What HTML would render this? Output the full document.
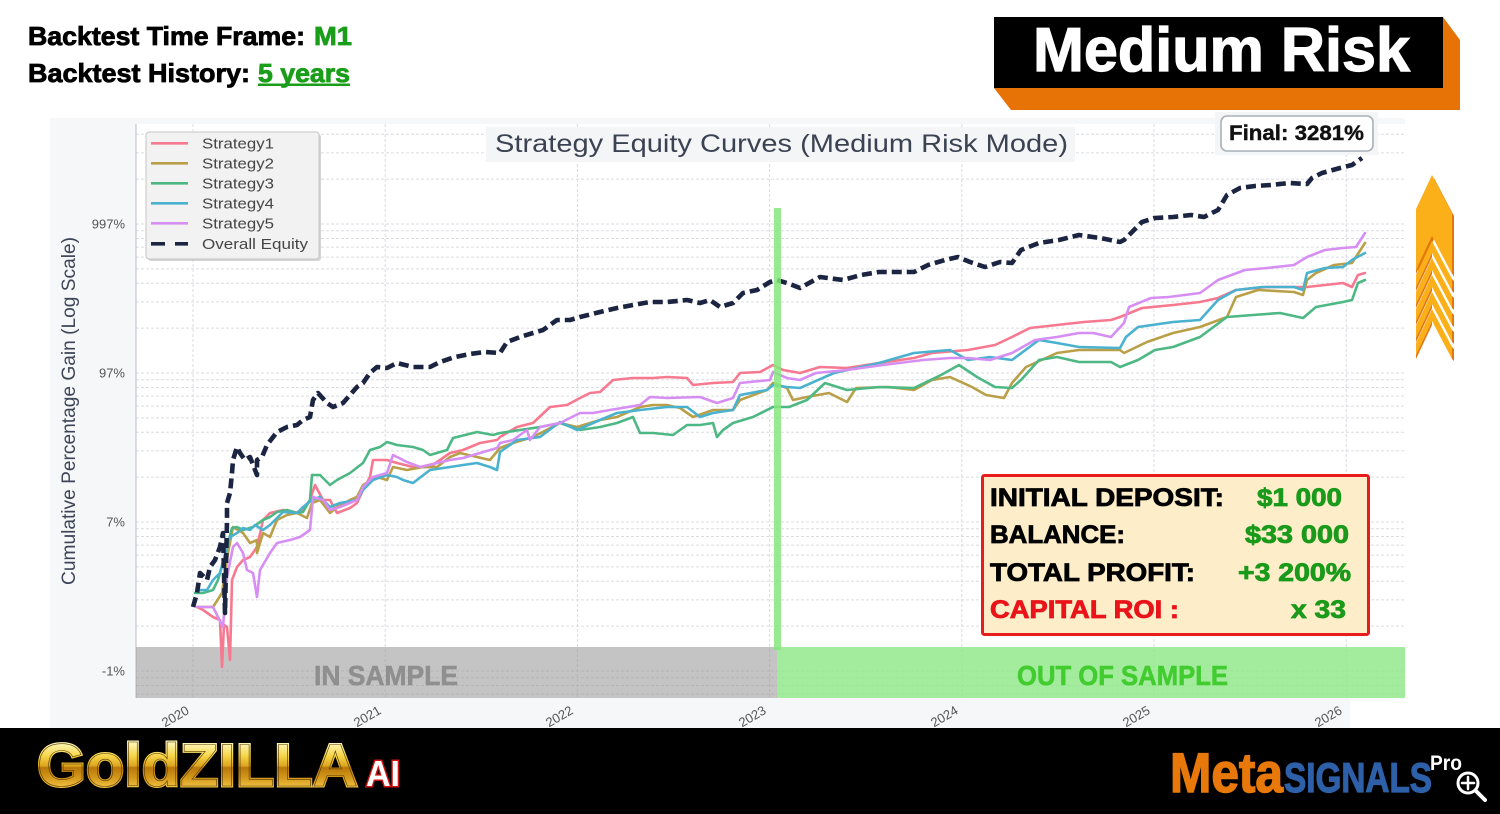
<!DOCTYPE html>
<html>
<head>
<meta charset="utf-8">
<style>
html,body{margin:0;padding:0;background:#ffffff;}
body{width:1500px;height:814px;overflow:hidden;}
svg{display:block;font-family:"Liberation Sans",Arial,sans-serif;}
</style>
</head>
<body>
<svg width="1500" height="814" viewBox="0 0 1500 814" xmlns="http://www.w3.org/2000/svg">
  <defs>
    <linearGradient id="gold" x1="0" y1="743" x2="0" y2="787" gradientUnits="userSpaceOnUse">
      <stop offset="0" stop-color="#fff7b8"/>
      <stop offset="0.3" stop-color="#f5d446"/>
      <stop offset="0.52" stop-color="#dca520"/>
      <stop offset="0.56" stop-color="#b8780a"/>
      <stop offset="0.8" stop-color="#d59a1c"/>
      <stop offset="1" stop-color="#f0c040"/>
    </linearGradient>
  </defs>

  <rect x="0" y="0" width="1500" height="814" fill="#ffffff"/>

  <!-- Top-left text -->
  <g font-weight="bold" font-size="26" stroke-width="0.8">
    <text x="28" y="45" fill="#000" stroke="#000" textLength="277" lengthAdjust="spacingAndGlyphs">Backtest Time Frame:</text>
    <text x="314" y="45" fill="#1a9e1a" stroke="#1a9e1a" textLength="38" lengthAdjust="spacingAndGlyphs">M1</text>
    <text x="28" y="82" fill="#000" stroke="#000" textLength="222" lengthAdjust="spacingAndGlyphs">Backtest History:</text>
    <text x="258" y="82" fill="#1a9e1a" stroke="#1a9e1a" textLength="92" lengthAdjust="spacingAndGlyphs">5 years</text>
  </g>
  <rect x="258" y="83.5" width="92" height="2.5" fill="#1a9e1a"/>

  <!-- Medium Risk badge -->
  <polygon points="994,88 1011,110 1460,110 1460,40 1443,17" fill="#e77206"/>
  <rect x="994" y="17" width="449" height="71" fill="#000"/>
  <text x="1033" y="71" font-size="62" font-weight="bold" fill="#fff" stroke="#fff" stroke-width="1.2" textLength="377" lengthAdjust="spacingAndGlyphs">Medium Risk</text>

  <!-- Figure background -->
  <rect x="50" y="118" width="1355" height="610" fill="#f6f7f9"/>
  <rect x="1350" y="699" width="55" height="29" fill="#ffffff"/>
  <rect x="136" y="124" width="1269" height="574" fill="#ffffff"/>

  <!-- Horizontal gridlines -->
  <g stroke="#d9dce1" stroke-width="1" stroke-dasharray="3,2">
    <line x1="136" x2="1405" y1="224" y2="224"/>
    <line x1="136" x2="1405" y1="373" y2="373"/>
    <line x1="136" x2="1405" y1="522" y2="522"/>
    <line x1="136" x2="1405" y1="671" y2="671"/>
    <line x1="136" x2="1405" y1="179.1" y2="179.1"/>
    <line x1="136" x2="1405" y1="152.9" y2="152.9"/>
    <line x1="136" x2="1405" y1="134.3" y2="134.3"/>
    <line x1="136" x2="1405" y1="328.1" y2="328.1"/>
    <line x1="136" x2="1405" y1="301.9" y2="301.9"/>
    <line x1="136" x2="1405" y1="283.3" y2="283.3"/>
    <line x1="136" x2="1405" y1="268.9" y2="268.9"/>
    <line x1="136" x2="1405" y1="257.1" y2="257.1"/>
    <line x1="136" x2="1405" y1="247.1" y2="247.1"/>
    <line x1="136" x2="1405" y1="238.5" y2="238.5"/>
    <line x1="136" x2="1405" y1="230.8" y2="230.8"/>
    <line x1="136" x2="1405" y1="477.1" y2="477.1"/>
    <line x1="136" x2="1405" y1="450.9" y2="450.9"/>
    <line x1="136" x2="1405" y1="432.3" y2="432.3"/>
    <line x1="136" x2="1405" y1="417.9" y2="417.9"/>
    <line x1="136" x2="1405" y1="406.1" y2="406.1"/>
    <line x1="136" x2="1405" y1="396.1" y2="396.1"/>
    <line x1="136" x2="1405" y1="387.5" y2="387.5"/>
    <line x1="136" x2="1405" y1="379.8" y2="379.8"/>
    <line x1="136" x2="1405" y1="626.1" y2="626.1"/>
    <line x1="136" x2="1405" y1="599.9" y2="599.9"/>
    <line x1="136" x2="1405" y1="581.3" y2="581.3"/>
    <line x1="136" x2="1405" y1="566.9" y2="566.9"/>
    <line x1="136" x2="1405" y1="555.1" y2="555.1"/>
    <line x1="136" x2="1405" y1="545.1" y2="545.1"/>
    <line x1="136" x2="1405" y1="536.5" y2="536.5"/>
    <line x1="136" x2="1405" y1="528.8" y2="528.8"/>
    <line x1="136" x2="1405" y1="694.0" y2="694.0"/>
    <line x1="136" x2="1405" y1="685.5" y2="685.5"/>
    <line x1="136" x2="1405" y1="677.8" y2="677.8"/>
  </g>
  <g stroke="#d9dce1" stroke-width="1" stroke-dasharray="3,2">
    <line x1="193" x2="193" y1="124" y2="698"/>
    <line x1="385.2" x2="385.2" y1="124" y2="698"/>
    <line x1="577.4" x2="577.4" y1="124" y2="698"/>
    <line x1="769.6" x2="769.6" y1="124" y2="698"/>
    <line x1="961.8" x2="961.8" y1="124" y2="698"/>
    <line x1="1154" x2="1154" y1="124" y2="698"/>
    <line x1="1346.2" x2="1346.2" y1="124" y2="698"/>
  </g>
  <line x1="136" y1="124" x2="136" y2="698" stroke="#c3c8d0" stroke-width="1.2"/>

  <!-- Sample bands -->
  <rect x="136" y="647" width="641" height="51" fill="#9a9a9a" opacity="0.58"/>
  <rect x="777" y="647" width="628" height="51" fill="#8fe888" opacity="0.82"/>
  <text x="314" y="685" font-size="28" font-weight="bold" fill="#8f8f8f" stroke="#8f8f8f" stroke-width="0.6" textLength="144" lengthAdjust="spacingAndGlyphs">IN SAMPLE</text>
  <text x="1017" y="685" font-size="28" font-weight="bold" fill="#42cc30" stroke="#42cc30" stroke-width="0.6" textLength="211" lengthAdjust="spacingAndGlyphs">OUT OF SAMPLE</text>

  <!-- Series -->
  <g fill="none" stroke-width="2.6" stroke-linejoin="round" stroke-linecap="round">
    <polyline stroke="#f7798f" points="197,607 203,610 213,617 220,620 222,667 224,625 227,627 230,660 232,580 237,567 243,560 250,557 257,547 263,520 270,513 283,510 300,513 310,500 315,485 323,500 330,500 337,513 350,508 357,503 363,490 370,477 373,460 387,460 397,463 413,467 430,467 450,453 463,450 480,443 497,440 500,437 517,427 533,423 550,407 567,405 580,398 590,393 600,392 613,380 633,378 653,378 667,377 687,378 693,385 713,383 733,382 740,373 760,372 773,365 783,370 800,373 820,367 847,368 879,363 914,358 932,353 968,350 995,345 1012,337 1030,328 1057,325 1084,322 1111,320 1120,317 1142,308 1173,305 1200,302 1218,298 1236,290 1267,287 1294,287 1307,287 1325,285 1343,283 1352,287 1358,275 1365,273"/>
    <polyline stroke="#b9a048" points="197,607 213,607 222,593 228,553 233,527 243,533 250,543 257,540 257,553 263,533 270,537 277,520 287,515 297,513 307,518 312,503 320,500 330,513 337,507 350,500 357,497 363,485 377,477 387,480 393,467 407,470 423,467 437,467 450,457 460,453 477,457 490,460 500,448 513,443 533,437 560,423 577,427 600,420 617,417 640,407 653,405 667,405 680,408 693,417 713,410 733,410 740,400 767,390 773,383 787,388 793,400 807,397 829,393 847,402 856,388 888,387 914,390 932,380 950,377 972,387 986,395 1004,398 1012,383 1026,367 1057,353 1079,350 1120,350 1124,353 1147,342 1173,333 1200,327 1227,317 1236,297 1258,290 1294,292 1303,295 1307,280 1316,273 1334,265 1352,263 1365,243"/>
    <polyline stroke="#4db884" points="195,593 203,593 213,590 218,580 227,547 232,528 237,527 243,530 253,527 263,520 270,517 277,512 287,510 297,513 303,512 310,500 312,475 320,475 330,485 337,480 350,473 363,463 370,450 380,447 387,442 397,445 413,447 423,450 430,455 447,450 453,438 477,432 493,435 500,433 520,430 540,427 560,423 580,430 600,427 617,423 633,417 640,433 653,433 673,435 687,425 700,425 713,423 717,437 723,430 733,423 753,417 773,407 789,407 807,400 825,383 847,390 879,387 914,388 941,375 959,365 977,377 995,387 1012,388 1021,380 1039,360 1057,357 1079,362 1111,362 1120,367 1138,360 1155,350 1173,347 1200,337 1227,317 1253,315 1280,313 1303,318 1316,307 1343,302 1352,300 1358,283 1365,280"/>
    <polyline stroke="#4ab2cf" points="197,590 207,590 213,580 220,573 230,537 237,533 243,528 250,530 255,525 263,530 270,525 283,512 297,513 303,507 312,500 320,497 330,507 340,503 357,500 363,490 373,480 387,475 397,477 403,480 413,483 430,470 450,467 463,465 477,463 490,467 497,470 500,452 517,440 540,437 560,422 577,430 600,420 617,413 640,410 667,407 687,407 700,417 713,413 733,410 740,395 767,390 773,385 787,387 800,388 834,373 879,363 914,353 950,350 968,360 990,357 1012,360 1039,340 1057,343 1079,347 1120,348 1126,337 1138,327 1173,322 1200,320 1218,300 1236,290 1262,287 1294,287 1303,290 1307,273 1325,268 1343,267 1352,260 1365,253"/>
    <polyline stroke="#d78ef3" points="197,607 213,607 223,627 227,577 233,547 237,543 243,553 247,570 253,573 257,597 260,570 270,553 277,543 290,540 300,537 310,530 313,497 323,500 330,510 340,507 357,500 363,487 373,477 387,473 393,455 407,462 420,467 437,463 450,460 463,458 480,453 497,448 500,443 513,440 527,430 530,440 540,427 560,423 580,413 593,413 610,410 640,405 650,397 667,398 700,397 717,403 733,398 740,383 770,380 773,372 787,378 800,380 816,373 847,370 883,365 923,360 950,358 968,358 990,360 1012,353 1035,340 1057,337 1079,333 1093,333 1111,337 1124,323 1129,307 1151,298 1169,297 1200,293 1218,280 1245,270 1267,268 1294,265 1307,257 1325,250 1343,248 1356,247 1365,233"/>
    <polyline stroke="#1b2440" stroke-width="4.6" stroke-dasharray="10,5" stroke-linecap="butt" points="193,607 197,593 200,573 207,580 210,567 215,560 220,547 223,533 225,613 227,520 227,503 230,493 232,473 233,460 237,447 240,453 245,460 250,457 257,475 257,460 262,457 267,445 277,432 287,427 297,425 303,420 310,417 313,400 318,393 327,403 333,407 343,403 357,387 363,383 370,373 377,367 387,368 397,363 413,367 430,367 440,362 455,357 470,354 485,352 500,353 507,342 520,337 533,333 543,330 557,320 570,320 580,317 600,312 617,308 633,305 650,302 667,302 687,300 700,303 710,300 720,307 733,303 743,293 757,290 770,282 777,280 787,283 800,288 820,277 843,280 861,275 879,272 914,272 928,265 945,260 958,257 970,262 985,267 1000,262 1012,263 1021,250 1039,243 1059,240 1079,235 1100,238 1120,242 1124,240 1142,222 1155,218 1173,217 1191,215 1204,217 1218,210 1227,195 1240,188 1255,186 1271,185 1289,183 1307,184 1312,178 1322,173 1340,168 1352,165 1362,158"/>
  </g>

  <rect x="774" y="208" width="7" height="442" fill="#86e67c" opacity="0.85"/>

  <!-- Title -->
  <rect x="486" y="127" width="589" height="35" fill="#f4f5f7"/>
  <text x="495" y="152" font-size="25" fill="#3b4252" textLength="573" lengthAdjust="spacingAndGlyphs">Strategy Equity Curves (Medium Risk Mode)</text>

  <!-- Final box -->
  <rect x="1215" y="112" width="163" height="43" fill="#f4f5f7"/>
  <rect x="1221" y="116" width="152" height="35" rx="6" ry="6" fill="#ffffff" stroke="#aab0b8" stroke-width="1.6"/>
  <text x="1229" y="140" font-size="21" font-weight="bold" fill="#111" stroke="#111" stroke-width="0.4" textLength="135" lengthAdjust="spacingAndGlyphs">Final: 3281%</text>

  <!-- Legend -->
  <rect x="148" y="134" width="173" height="127" rx="3" fill="#b8b8b8" opacity="0.6"/>
  <rect x="146" y="132" width="173" height="127" rx="3" fill="#f2f2f2" stroke="#c6c6c6" stroke-width="1"/>
  <g stroke-width="2.6">
    <line x1="151" x2="188" y1="143.3" y2="143.3" stroke="#f7798f"/>
    <line x1="151" x2="188" y1="163.3" y2="163.3" stroke="#b9a048"/>
    <line x1="151" x2="188" y1="183.3" y2="183.3" stroke="#4db884"/>
    <line x1="151" x2="188" y1="203.3" y2="203.3" stroke="#4ab2cf"/>
    <line x1="151" x2="188" y1="223.3" y2="223.3" stroke="#d78ef3"/>
    <line x1="151" x2="188" y1="243.8" y2="243.8" stroke="#1b2440" stroke-width="3.6" stroke-dasharray="14,10"/>
  </g>
  <g font-size="15" fill="#454545">
    <text x="202" y="148.5" textLength="72" lengthAdjust="spacingAndGlyphs">Strategy1</text>
    <text x="202" y="168.5" textLength="72" lengthAdjust="spacingAndGlyphs">Strategy2</text>
    <text x="202" y="188.5" textLength="72" lengthAdjust="spacingAndGlyphs">Strategy3</text>
    <text x="202" y="208.5" textLength="72" lengthAdjust="spacingAndGlyphs">Strategy4</text>
    <text x="202" y="228.5" textLength="72" lengthAdjust="spacingAndGlyphs">Strategy5</text>
    <text x="202" y="249" textLength="106" lengthAdjust="spacingAndGlyphs">Overall Equity</text>
  </g>

  <!-- Y tick labels -->
  <g font-size="13" fill="#555" text-anchor="end">
    <text x="125" y="228.5">997%</text>
    <text x="125" y="377.5">97%</text>
    <text x="125" y="526.5">7%</text>
    <text x="125" y="675.5">-1%</text>
  </g>
  <text transform="translate(75,411) rotate(-90)" text-anchor="middle" font-size="19" fill="#3d4556" textLength="348" lengthAdjust="spacingAndGlyphs">Cumulative Percentage Gain (Log Scale)</text>

  <!-- X tick labels -->
  <g font-size="13" fill="#555" text-anchor="end">
    <text transform="translate(190,713) rotate(-30)">2020</text>
    <text transform="translate(382,713) rotate(-30)">2021</text>
    <text transform="translate(574,713) rotate(-30)">2022</text>
    <text transform="translate(767,713) rotate(-30)">2023</text>
    <text transform="translate(959,713) rotate(-30)">2024</text>
    <text transform="translate(1151,713) rotate(-30)">2025</text>
    <text transform="translate(1343,713) rotate(-30)">2026</text>
  </g>

  <!-- Stats box -->
  <rect x="982.5" y="475.5" width="386" height="159" fill="#fdeec9" stroke="#e81c1c" stroke-width="3" rx="2"/>
  <g font-size="25" font-weight="bold" stroke-width="0.8">
    <text x="990" y="506" fill="#000" stroke="#000" textLength="234" lengthAdjust="spacingAndGlyphs">INITIAL DEPOSIT:</text>
    <text x="990" y="543" fill="#000" stroke="#000" textLength="135" lengthAdjust="spacingAndGlyphs">BALANCE:</text>
    <text x="990" y="581" fill="#000" stroke="#000" textLength="205" lengthAdjust="spacingAndGlyphs">TOTAL PROFIT:</text>
    <text x="990" y="618" fill="#e8141a" stroke="#e8141a" textLength="189" lengthAdjust="spacingAndGlyphs">CAPITAL ROI :</text>
    <text x="1257" y="506" fill="#1a9a1a" stroke="#1a9a1a" textLength="85" lengthAdjust="spacingAndGlyphs">$1 000</text>
    <text x="1245" y="543" fill="#1a9a1a" stroke="#1a9a1a" textLength="104" lengthAdjust="spacingAndGlyphs">$33 000</text>
    <text x="1238" y="581" fill="#1a9a1a" stroke="#1a9a1a" textLength="113" lengthAdjust="spacingAndGlyphs">+3 200%</text>
    <text x="1291" y="618" fill="#1a9a1a" stroke="#1a9a1a" textLength="55" lengthAdjust="spacingAndGlyphs">x 33</text>
  </g>

  <!-- Orange arrow stack -->
  <g>
    <!-- head -->
    <polygon points="1434,178 1454,216 1454,277 1434,239 1418,273 1418,212" fill="#e3760c"/>
    <polygon points="1432,175 1452,213 1452,274 1432,236 1416,270 1416,209" fill="#fbb01a"/>
    <polygon points="1432,236 1416,270 1416,274 1432,240" fill="#e3760c"/>
    <!-- chevrons -->
    <polygon points="1432,241 1452,279 1452,291 1432,253 1416,287 1416,275" fill="#fbb01a"/>
    <polygon points="1432,253 1416,287 1416,291 1432,257" fill="#e3760c"/>
    <polygon points="1452,279 1454,281 1454,293 1452,291" fill="#e3760c"/>
    <polygon points="1432,258 1452,296 1452,308 1432,270 1416,304 1416,292" fill="#fbb01a"/>
    <polygon points="1432,270 1416,304 1416,308 1432,274" fill="#e3760c"/>
    <polygon points="1452,296 1454,298 1454,310 1452,308" fill="#e3760c"/>
    <polygon points="1432,275 1452,313 1452,325 1432,287 1416,321 1416,309" fill="#fbb01a"/>
    <polygon points="1432,287 1416,321 1416,325 1432,291" fill="#e3760c"/>
    <polygon points="1452,313 1454,315 1454,327 1452,325" fill="#e3760c"/>
    <polygon points="1432,292 1452,330 1452,342 1432,304 1416,338 1416,326" fill="#fbb01a"/>
    <polygon points="1432,304 1416,338 1416,342 1432,308" fill="#e3760c"/>
    <polygon points="1452,330 1454,332 1454,344 1452,342" fill="#e3760c"/>
    <polygon points="1432,309 1452,347 1452,359 1432,321 1416,355 1416,343" fill="#fbb01a"/>
    <polygon points="1432,321 1416,355 1416,359 1432,325" fill="#e3760c"/>
    <polygon points="1452,347 1454,349 1454,361 1452,359" fill="#e3760c"/>
  </g>

  <!-- Bottom banner -->
  <rect x="0" y="728" width="1500" height="86" fill="#000"/>
  <text x="37" y="786" font-size="60" font-weight="bold" fill="url(#gold)" stroke="url(#gold)" stroke-width="3" textLength="321" lengthAdjust="spacingAndGlyphs">GoldZILLA</text>
  <text x="37" y="786" font-size="60" font-weight="bold" fill="url(#gold)" stroke="#5a3c04" stroke-width="0.6" textLength="321" lengthAdjust="spacingAndGlyphs">GoldZILLA</text>
  <text x="366" y="786" font-size="36" font-weight="bold" fill="#ffffff" stroke="#d01414" stroke-width="3" paint-order="stroke" textLength="34" lengthAdjust="spacingAndGlyphs">AI</text>

  <text x="1170" y="792" font-size="56" font-weight="bold" fill="#e8780a" stroke="#e8780a" stroke-width="1.5" textLength="113" lengthAdjust="spacingAndGlyphs">Meta</text>
  <text x="1284" y="792" font-size="42" font-weight="bold" fill="#2d60a8" stroke="#2d60a8" stroke-width="1.2" textLength="148" lengthAdjust="spacingAndGlyphs">SIGNALS</text>
  <text x="1430" y="770" font-size="21" font-weight="bold" fill="#ffffff" textLength="32" lengthAdjust="spacingAndGlyphs">Pro</text>
  <g stroke="#ffffff" fill="none" stroke-linecap="round">
    <circle cx="1468" cy="783" r="10" stroke-width="3"/>
    <line x1="1476" y1="791" x2="1485" y2="800" stroke-width="4"/>
    <line x1="1468" y1="777" x2="1468" y2="789" stroke-width="2.5"/>
    <line x1="1462" y1="783" x2="1474" y2="783" stroke-width="2.5"/>
  </g>
</svg>
</body>
</html>
